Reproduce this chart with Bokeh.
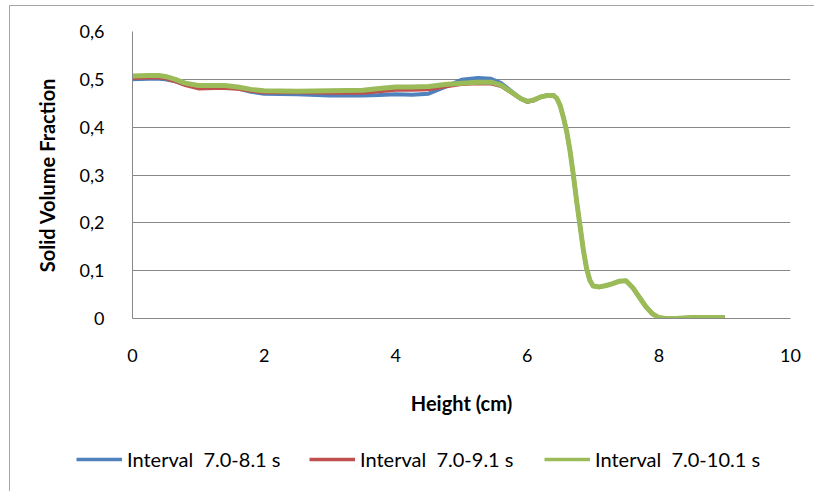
from bokeh.plotting import figure
from bokeh.layouts import column
from bokeh.models import (ColumnDataSource, Legend, LegendItem, FixedTicker,
                          CustomJSTickFormatter)
from bokeh.embed import file_html
from bokeh.resources import INLINE

# ---- data ----
height_cm = [0, 0.25, 0.4, 0.5, 0.65, 0.8, 1.0, 1.25, 1.4, 1.6, 1.8, 2.0, 2.5, 3.0,
             3.5, 3.75, 4.0, 4.25, 4.5, 4.75, 5.0, 5.25, 5.45, 5.6, 5.75, 5.9, 6.0,
             6.1, 6.2, 6.3, 6.4, 6.45, 6.5, 6.55, 6.6, 6.65, 6.7, 6.75, 6.8, 6.85,
             6.9, 6.95, 7.0, 7.1, 7.2, 7.3, 7.4, 7.5, 7.6, 7.7, 7.8, 7.9, 8.0, 8.1,
             8.25, 8.5, 8.75, 9.0]

interval_8_1 = [0.500, 0.501, 0.501, 0.500, 0.496, 0.489, 0.484, 0.484, 0.485, 0.481,
                0.474, 0.470, 0.469, 0.466, 0.466, 0.467, 0.469, 0.468, 0.470, 0.484,
                0.499, 0.503, 0.501, 0.492, 0.476, 0.460, 0.453, 0.456, 0.463, 0.467,
                0.467, 0.460, 0.445, 0.420, 0.390, 0.350, 0.300, 0.245, 0.195, 0.145,
                0.105, 0.080, 0.068, 0.066, 0.069, 0.073, 0.078, 0.079, 0.065, 0.045,
                0.025, 0.010, 0.002, 0.000, 0.000, 0.002, 0.002, 0.002]

interval_9_1 = [0.502, 0.503, 0.503, 0.501, 0.495, 0.487, 0.480, 0.481, 0.481, 0.479,
                0.475, 0.472, 0.472, 0.471, 0.471, 0.474, 0.477, 0.477, 0.478, 0.484,
                0.489, 0.491, 0.490, 0.485, 0.472, 0.458, 0.452, 0.455, 0.462, 0.465,
                0.465, 0.460, 0.445, 0.420, 0.390, 0.350, 0.300, 0.245, 0.195, 0.145,
                0.105, 0.080, 0.068, 0.066, 0.069, 0.073, 0.078, 0.079, 0.065, 0.045,
                0.025, 0.010, 0.002, 0.000, 0.000, 0.002, 0.002, 0.002]

interval_10_1 = [0.507, 0.508, 0.508, 0.506, 0.500, 0.492, 0.487, 0.487, 0.487, 0.484,
                 0.479, 0.476, 0.475, 0.476, 0.477, 0.481, 0.484, 0.484, 0.485, 0.489,
                 0.492, 0.494, 0.494, 0.488, 0.474, 0.460, 0.454, 0.457, 0.463, 0.466,
                 0.466, 0.460, 0.445, 0.420, 0.390, 0.350, 0.300, 0.245, 0.195, 0.145,
                 0.105, 0.080, 0.068, 0.066, 0.069, 0.073, 0.078, 0.079, 0.065, 0.045,
                 0.025, 0.010, 0.002, 0.000, 0.000, 0.002, 0.002, 0.002]

series_names = ["Interval  7.0-8.1 s", "Interval  7.0-9.1 s", "Interval  7.0-10.1 s"]
series_colors = ["#4f81bd", "#c0504d", "#9bbb59"]
series_widths = [4, 3, 5]

x_ticks = [0, 2, 4, 6, 8, 10]
y_ticks = [0, 0.1, 0.2, 0.3, 0.4, 0.5, 0.6]
y_tick_labels = ["0", "0,1", "0,2", "0,3", "0,4", "0,5", "0,6"]

FONT = "Lato"
GRAY = "#888888"
BORDER = "1px solid #a6a6a6"

src = ColumnDataSource(dict(x=height_cm, a=interval_8_1, b=interval_9_1, c=interval_10_1))

# ---- main chart ----
p = figure(width=804, height=440, output_backend="svg", toolbar_location=None,
           x_range=(0, 10), y_range=(0, 0.6),
           min_border_left=122, min_border_right=24,
           min_border_top=25, min_border_bottom=128)
p.background_fill_color = "white"
p.border_fill_color = "white"
p.outline_line_color = None

for col, color, w in zip(("a", "b", "c"), series_colors, series_widths):
    p.line("x", col, source=src, line_color=color, line_width=w,
           line_join="round", line_cap="butt")

p.xaxis.ticker = FixedTicker(ticks=x_ticks)
p.yaxis.ticker = FixedTicker(ticks=y_ticks)
p.yaxis.formatter = CustomJSTickFormatter(
    args=dict(tvals=y_ticks, tlabels=y_tick_labels),
    code="""
    for (let i = 0; i < tvals.length; i++) {
        if (Math.abs(tvals[i] - tick) < 1e-9) return tlabels[i];
    }
    return tick.toString();
    """)

for ax in (p.xaxis[0], p.yaxis[0]):
    ax.major_tick_line_color = None
    ax.minor_tick_line_color = None
    ax.major_label_text_font = FONT
    ax.major_label_text_font_size = "18px"
    ax.major_label_text_color = "#000000"
    ax.axis_label_text_font = FONT
    ax.axis_label_text_font_style = "bold"
    ax.axis_label_text_font_size = "20px"
    ax.axis_label_text_color = "#000000"
    ax.axis_line_color = GRAY

p.xaxis.axis_label = "Height (cm)"
p.yaxis.axis_label = "Solid Volume Fraction"
p.xaxis.major_label_standoff = 24
p.xaxis.axis_label_standoff = 26
p.yaxis.major_label_standoff = 22
p.yaxis.axis_label_standoff = 18

p.xgrid.grid_line_color = None
p.ygrid.grid_line_color = GRAY
p.ygrid.grid_line_width = 1

# ---- legend strip (separate root so its frame spans the full width) ----
lg_fig = figure(width=804, height=45, output_backend="svg", toolbar_location=None,
                x_range=(0, 804), y_range=(100, 145), x_axis_type=None, y_axis_type=None,
                min_border_left=0, min_border_right=0, min_border_top=0, min_border_bottom=0)
lg_fig.outline_line_color = None
lg_fig.xgrid.grid_line_color = None
lg_fig.ygrid.grid_line_color = None
lg_fig.background_fill_color = "white"
lg_fig.border_fill_color = "white"

legend_x = [66, 299, 534]
for col, name, color, lx in zip(("a", "b", "c"), series_names, series_colors, legend_x):
    # same series, outside this strip's y-range (clipped), used only as legend key
    r = lg_fig.line("x", col, source=src, line_color=color, line_width=3.5)
    lg = Legend(items=[LegendItem(label=name, renderers=[r])],
                location=(lx, 20), orientation="horizontal",
                glyph_width=46, glyph_height=20, label_height=20, label_standoff=5,
                padding=0, margin=0, border_line_color=None,
                background_fill_alpha=0,
                label_text_font=FONT, label_text_font_size="20px",
                label_text_color="#000000")
    lg_fig.add_layout(lg)

top = column(p, margin=(5, 0, 0, 9), styles={"border-left": BORDER, "border-top": BORDER})
bottom = column(lg_fig, margin=(0, 0, 0, 9), styles={"border-left": BORDER})

open("out.html", "w").write(file_html([top, bottom], INLINE))
